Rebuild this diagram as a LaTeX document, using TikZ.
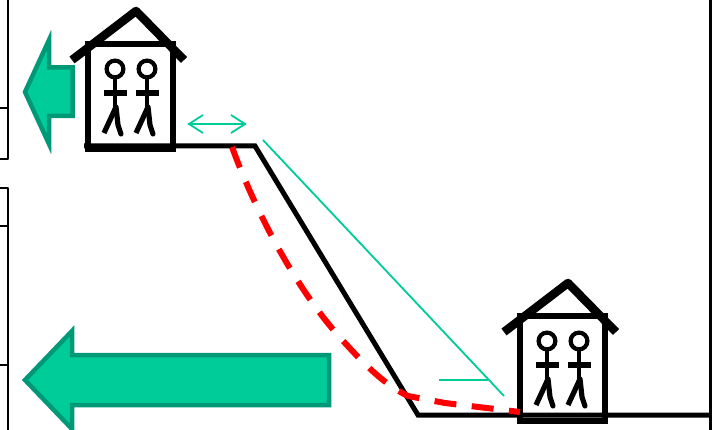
\documentclass[tikz,border=0pt]{standalone}
\begin{document}
\begin{tikzpicture}[x=1pt,y=-1pt,
  axisline/.style={draw=black,line width=2pt,line join=round},
  roof/.style={draw=black,line width=8.5pt,line join=round},
  walls/.style={draw=black,line width=5.5pt,miter limit=10},
  ground/.style={draw=black,line width=5pt,line join=miter},
  flow/.style={fill=arrowfill,draw=arrowedge,line width=4.5pt,line join=miter,miter limit=10},
  thin green/.style={draw=arrowfill,line width=1.8pt},
  person/.pic={
    \draw[black,line width=4.2pt] (0,0) circle (8.4);
    \draw[black,line width=4.2pt] (0,8) -- (0,39);
    \draw[black,line width=5.2pt] (-11.5,24) -- (12,24);
    \draw[black,line width=5.2pt] (1,38) -- (-11,64);
    \draw[black,line width=5.2pt,line cap=round] (1,38) -- (3,56) -- (6,65);
  },
  house/.pic={
    \draw[walls] (0,0) rectangle (85,105);
    \draw[roof] (-16,16) -- (48,-33) -- (96,16);
    \pic at (27,25) {person};
    \pic at (59,25) {person};
  }]
\definecolor{arrowfill}{HTML}{00CC99}
\definecolor{arrowedge}{HTML}{009977}
\useasboundingbox (0,0) rectangle (717,430);
\fill[white] (0,0) rectangle (717,430);
% axes
\coordinate (a1) at (8,0); \coordinate (a2) at (8,159); \coordinate (a3) at (0,159);
\draw[axisline] (a1) -- (a2) -- (a3);
\coordinate (t1) at (0,108); \coordinate (t1e) at (8,108);
\draw[axisline] (t1) -- (t1e);
\coordinate (b1) at (0,188); \coordinate (b2) at (8,188); \coordinate (b3) at (8,430);
\draw[axisline] (b1) -- (b2) -- (b3);
\coordinate (t2) at (0,226); \coordinate (t2e) at (8,226);
\draw[axisline] (t2) -- (t2e);
\coordinate (t3) at (0,365); \coordinate (t3e) at (8,365);
\draw[axisline] (t3) -- (t3e);
\coordinate (r1) at (710.5,0); \coordinate (r2) at (710.5,430);
\draw[black,line width=2.5pt] (r1) -- (r2);
% big arrows
\draw[flow] (49,40) -- (25,92) -- (49,144) -- (49,116) -- (72.5,116) -- (72.5,67.5) -- (49,67.5) -- cycle;
\draw[flow] (72,331) -- (25,380) -- (72,429) -- (72,405) -- (329,405) -- (329,355) -- (72,355) -- cycle;
% houses
\pic at (88,44) {house};
\pic at (520,316) {house};
% ground
\coordinate (g0) at (84,146); \coordinate (g1) at (255,146); \coordinate (g2) at (418,415); \coordinate (g3) at (710,415);
\draw[ground] (g0) -- (g1) -- (g2) -- (g3);
\fill[black] (86,146) rectangle (175,152.5);
% green lines
\coordinate (d1) at (188,124); \coordinate (d2) at (246,124);
\draw[thin green] (d1) -- (d2);
\draw[thin green,line join=miter] (203,115) -- (189,124) -- (203,133);
\draw[thin green,line join=miter] (231,115) -- (245,124) -- (231,133);
\coordinate (s1) at (263,140); \coordinate (s2) at (504,396); \coordinate (s3) at (439,380); \coordinate (s4) at (488,380);
\draw[thin green] (s1) -- (s2);
\draw[thin green] (s3) -- (s4);
% red
\coordinate (c0) at (232,147); \coordinate (c1) at (520,412);
\draw[red,line width=6pt,dash pattern=on 22pt off 15.5pt] (c0) .. controls (258,218) and (300,295) .. (345,343) .. controls (365,365) and (385,385) .. (408,396) -- (445,403) -- (c1);
\end{tikzpicture}
\end{document}
